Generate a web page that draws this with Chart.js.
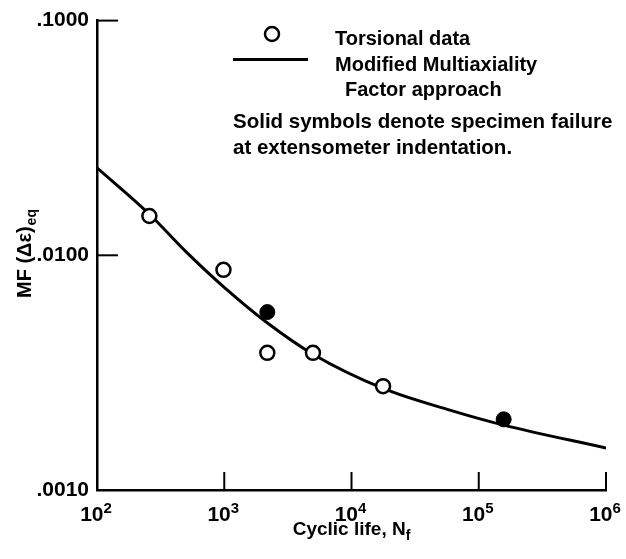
<!DOCTYPE html>
<html>
<head>
<meta charset="utf-8">
<script src="https://cdn.jsdelivr.net/npm/chart.js@4/dist/chart.umd.min.js"></script>
<style>
  html, body { margin: 0; padding: 0; background: #fff; }
</style>
</head>
<body>
<canvas id="chart" width="626" height="559"></canvas>
<script>
// torsional data, open symbols
var openLife = [258, 986, 2180, 4980, 17700];
var openMF = [0.0147, 0.00867, 0.00384, 0.00384, 0.00277];
// solid symbols (failure at extensometer indentation)
var solidLife = [2180, 157000];
var solidMF = [0.00573, 0.00200];
// modified multiaxiality factor curve
var curveLife = [100, 256, 509, 1000, 2160, 4980, 17700, 59300, 157000, 1000000];
var curveMF = [0.0236, 0.01503, 0.01027, 0.00730, 0.00517, 0.00379, 0.00271, 0.00219, 0.00189, 0.00151];
// axes
var xTicks = [1e2, 1e3, 1e4, 1e5, 1e6];
var xTickExp = ['2', '3', '4', '5', '6'];
var yTicks = [0.001, 0.01, 0.1];
var yTickLabels = ['.0010', '.0100', '.1000'];

var FONT = '"Liberation Sans", Arial, Helvetica, sans-serif';

function pts(xs, ys) {
    var out = [];
    for (var i = 0; i < xs.length; i++) out.push({x: xs[i], y: ys[i]});
    return out;
}

// tick marks point into the plot, labels with superscripts, legend text
var decor = {
    id: 'decor',
    afterDraw: function(chart) {
        var ctx = chart.ctx;
        var a = chart.chartArea;
        var xs = chart.scales.x, ys = chart.scales.y;
        ctx.save();
        ctx.strokeStyle = '#000';
        ctx.fillStyle = '#000';
        ctx.lineWidth = 2;

        xTicks.forEach(function(v, i) {
            var px = xs.getPixelForValue(v);
            if (i > 0) {
                ctx.beginPath();
                ctx.moveTo(px, a.bottom);
                ctx.lineTo(px, a.bottom - 18);
                ctx.stroke();
            }
            ctx.font = 'bold 21px ' + FONT;
            var wb = ctx.measureText('10').width;
            ctx.font = 'bold 15px ' + FONT;
            var we = ctx.measureText(xTickExp[i]).width;
            var x0 = px - (wb + we) / 2 - 1;
            ctx.textAlign = 'left';
            ctx.textBaseline = 'alphabetic';
            ctx.font = 'bold 21px ' + FONT;
            ctx.fillText('10', x0, 521);
            ctx.font = 'bold 15px ' + FONT;
            ctx.fillText(xTickExp[i], x0 + wb, 513);
        });

        yTicks.forEach(function(v, i) {
            if (i === 0) return;
            var py = ys.getPixelForValue(v);
            ctx.beginPath();
            ctx.moveTo(a.left, py);
            ctx.lineTo(a.left + 21, py);
            ctx.stroke();
        });

        // x title
        ctx.font = 'bold 19px ' + FONT;
        var t = 'Cyclic life, N';
        var wt = ctx.measureText(t).width;
        ctx.font = 'bold 14px ' + FONT;
        var ws = ctx.measureText('f').width;
        var tx = (a.left + a.right) / 2 - (wt + ws) / 2;
        ctx.font = 'bold 19px ' + FONT;
        ctx.fillText(t, tx, 535);
        ctx.font = 'bold 14px ' + FONT;
        ctx.fillText('f', tx + wt, 540);

        // y title
        ctx.save();
        ctx.translate(31, 298);
        ctx.rotate(-Math.PI / 2);
        ctx.font = 'bold 20px ' + FONT;
        var m = 'MF (\u0394\u03b5)';
        ctx.fillText(m, 0, 0);
        var wm = ctx.measureText(m).width;
        ctx.font = 'bold 14px ' + FONT;
        ctx.fillText('eq', wm + 1, 5);
        ctx.restore();

        // legend
        ctx.lineWidth = 2.5;
        ctx.beginPath();
        ctx.arc(272, 34, 7, 0, Math.PI * 2);
        ctx.fillStyle = '#fff';
        ctx.fill();
        ctx.stroke();
        ctx.fillStyle = '#000';
        ctx.lineWidth = 3;
        ctx.beginPath();
        ctx.moveTo(233, 59.5);
        ctx.lineTo(308, 59.5);
        ctx.stroke();

        ctx.font = 'bold 20px ' + FONT;
        ctx.fillText('Torsional data', 335, 45);
        ctx.fillText('Modified Multiaxiality', 335, 71);
        ctx.fillText('Factor approach', 345, 96);
        ctx.font = 'bold 20.5px ' + FONT;
        ctx.fillText('Solid symbols denote specimen failure', 233, 128);
        ctx.fillText('at extensometer indentation.', 233, 154);
        ctx.restore();
    }
};

var ctx = document.getElementById('chart').getContext('2d');
var chart = new Chart(ctx, {
    type: 'scatter',
    data: {
        datasets: [{
            label: 'Solid symbols',
            data: pts(solidLife, solidMF),
            pointRadius: 7.5,
            pointBackgroundColor: '#000',
            pointBorderColor: '#000',
            pointBorderWidth: 1
        }, {
            label: 'Torsional data',
            data: pts(openLife, openMF),
            pointRadius: 7,
            pointBackgroundColor: '#fff',
            pointBorderColor: '#000',
            pointBorderWidth: 2.5
        }, {
            label: 'Modified Multiaxiality Factor approach',
            data: pts(curveLife, curveMF),
            showLine: true,
            borderColor: '#000',
            borderWidth: 3,
            pointRadius: 0,
            cubicInterpolationMode: 'monotone',
            fill: false
        }]
    },
    options: {
        responsive: false,
        animation: false,
        devicePixelRatio: 1,
        layout: { padding: { top: 19.5, right: 20, left: 0, bottom: 0 } },
        plugins: { legend: { display: false }, tooltip: { enabled: false } },
        scales: {
            x: {
                type: 'logarithmic',
                min: 100,
                max: 1e6,
                grid: { display: false, drawTicks: false },
                border: { display: true, color: '#000', width: 2.5 },
                ticks: { display: false },
                afterFit: function(s) { s.height = 69; }
            },
            y: {
                type: 'logarithmic',
                min: 0.001,
                max: 0.1,
                grid: { display: false, drawTicks: false },
                border: { display: true, color: '#000', width: 2.5 },
                afterBuildTicks: function(s) {
                    s.ticks = yTicks.map(function(v) { return {value: v}; });
                },
                ticks: {
                    color: '#000',
                    padding: 8,
                    font: { family: FONT, size: 21, weight: 'bold' },
                    callback: function(v) {
                        var i = yTicks.indexOf(v);
                        return i >= 0 ? yTickLabels[i] : '';
                    }
                },
                afterFit: function(s) { s.width = 97; }
            }
        }
    },
    plugins: [decor]
});
</script>
</body>
</html>
